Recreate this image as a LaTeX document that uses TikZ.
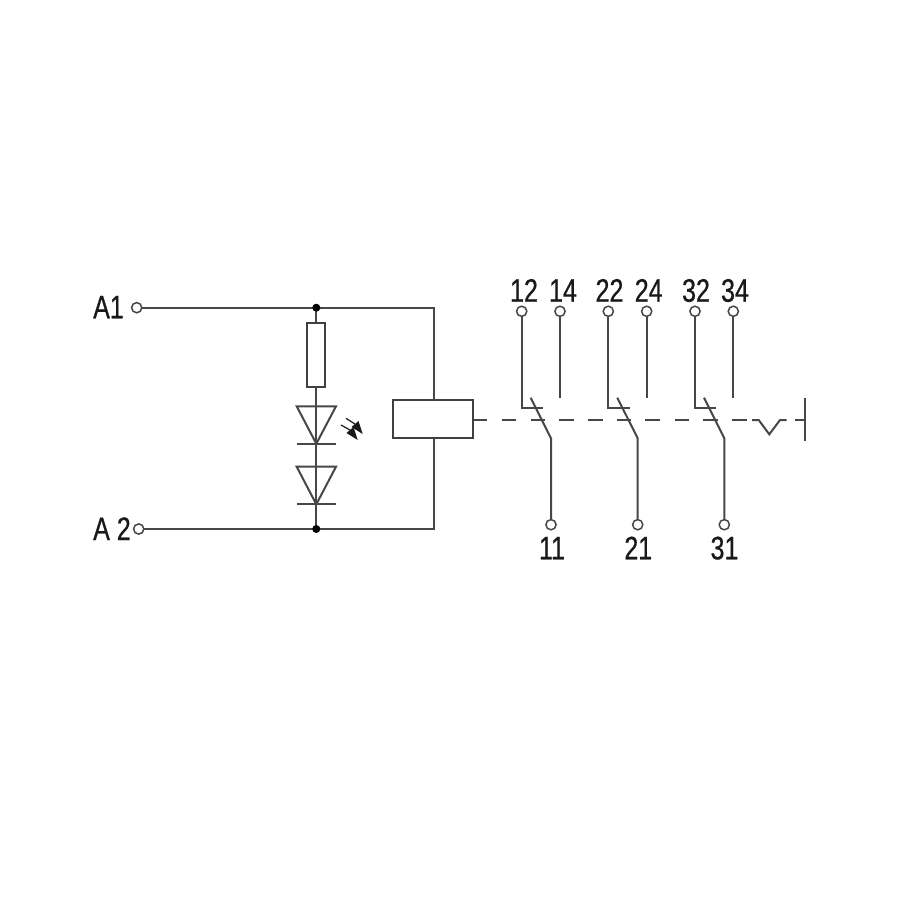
\documentclass[tikz,border=0pt]{standalone}
\usepackage{fontspec}
\setmainfont[FakeStretch=0.77,FakeBold=0.6]{Liberation Sans}
\tikzset{
  wire/.style={draw=black!72,line width=2pt},
  term/.style={circle,draw=black!72,line width=1.5pt,fill=white,inner sep=0pt,minimum size=10.2pt},
  junc/.style={circle,fill=black,inner sep=0pt,minimum size=8pt},
  box/.style={rectangle,draw=black!75,line width=1.9pt,fill=white,inner sep=0pt},
  lab/.style={inner sep=0pt,anchor=base,text=black!90,font=\fontsize{32.5}{33}\selectfont},
  mech/.style={wire},
  ledmark/.style={fill=black!90,draw=none},
  ledtail/.style={draw=black!85,line width=1.3pt}
}
\begin{document}
\begin{tikzpicture}[x=1pt,y=-1pt]
\useasboundingbox[fill=white] (0,0) rectangle (900,900);
% main wires first so that terminals sit on top
\coordinate (tr) at (434.3,307.7);
\coordinate (br) at (434.3,529);
\coordinate (A1p) at (136.7,307.7);
\coordinate (A2p) at (138.7,529);
\coordinate (jtp) at (316.3,307.7);
\coordinate (jbp) at (316.3,529);
\draw[wire] (A1p) -- (jtp) -- (tr) -- (br) -- (jbp) -- (A2p);
\draw[wire] (jtp) -- (jbp);
% labels
\node[lab,anchor=base west] (tA1) at (93,318.3) {A1};
\node[lab,anchor=base west] (tA2) at (93,540) {A 2};
\node[lab] (t12) at (524,301.7) {12};
\node[lab] (t14) at (563,301.7) {14};
\node[lab] (t22) at (609.5,301.7) {22};
\node[lab] (t24) at (648.7,301.7) {24};
\node[lab] (t32) at (696,301.7) {32};
\node[lab] (t34) at (735,301.7) {34};
\node[lab] (t11) at (552,559.3) {11};
\node[lab] (t21) at (638.3,559.3) {21};
\node[lab] (t31) at (724.5,559.3) {31};
% contact coordinates
\coordinate (p12) at (521.7,311.3);
\coordinate (p14) at (560,311.3);
\coordinate (p22) at (608.3,311.3);
\coordinate (p24) at (646.7,311.3);
\coordinate (p32) at (695,311.3);
\coordinate (p34) at (733.3,311.3);
\coordinate (p11) at (551,524.7);
\coordinate (p21) at (637.7,524.7);
\coordinate (p31) at (724.3,524.7);
\coordinate (k1) at (521.7,407.7); \coordinate (k1e) at (542.7,407.7);
\coordinate (k2) at (608.3,407.7); \coordinate (k2e) at (630,407.7);
\coordinate (k3) at (695,407.7); \coordinate (k3e) at (715.7,407.7);
\coordinate (b1a) at (530.7,397.7); \coordinate (b1b) at (551,438.3);
\coordinate (b2a) at (617.3,397.7); \coordinate (b2b) at (637.7,438.3);
\coordinate (b3a) at (704,397.7); \coordinate (b3b) at (724.3,438.3);
\coordinate (e14) at (560,397.7); \coordinate (e24) at (646.7,397.7); \coordinate (e34) at (733.3,397.7);
\draw[wire] (p12) -- (k1) -- (k1e);
\draw[wire] (p22) -- (k2) -- (k2e);
\draw[wire] (p32) -- (k3) -- (k3e);
\draw[wire] (p14) -- (e14);
\draw[wire] (p24) -- (e24);
\draw[wire] (p34) -- (e34);
\draw[wire] (b1a) -- (b1b) -- (p11);
\draw[wire] (b2a) -- (b2b) -- (p21);
\draw[wire] (b3a) -- (b3b) -- (p31);
% terminals
\node[term] (A1) at (A1p) {};
\node[term] (A2) at (A2p) {};
\node[term] (c12) at (p12) {};
\node[term] (c14) at (p14) {};
\node[term] (c22) at (p22) {};
\node[term] (c24) at (p24) {};
\node[term] (c32) at (p32) {};
\node[term] (c34) at (p34) {};
\node[term] (c11) at (p11) {};
\node[term] (c21) at (p21) {};
\node[term] (c31) at (p31) {};
\node[junc] (jt) at (jtp) {};
\node[junc] (jb) at (jbp) {};
% resistor and coil
\node[box,minimum width=17.4pt,minimum height=64.3pt] (res) at (316,354.9) {};
\node[box,minimum width=80pt,minimum height=38pt] (coil) at (432.7,419.4) {};
% diodes
\coordinate (d1a) at (296.7,406.3); \coordinate (d1b) at (336,406.3); \coordinate (d1c) at (316.3,443.7);
\coordinate (d1l) at (296.7,443.7); \coordinate (d1r) at (336,443.7);
\coordinate (d2a) at (296.7,466.7); \coordinate (d2b) at (336,466.7); \coordinate (d2c) at (316.3,504.3);
\coordinate (d2l) at (296.7,504.3); \coordinate (d2r) at (336,504.3);
\draw[wire] (d1a) -- (d1b) -- (d1c) -- cycle;
\draw[wire] (d1l) -- (d1r);
\draw[wire] (d2a) -- (d2b) -- (d2c) -- cycle;
\draw[wire] (d2l) -- (d2r);
% LED rays
\coordinate (r1t) at (346,418.3); \coordinate (r1m) at (355,424);
\coordinate (r2t) at (341,425); \coordinate (r2m) at (350,430);
\draw[ledtail] (r1t) -- (r1m);
\draw[ledtail] (r2t) -- (r2m);
\fill[ledmark] (362.7,434) -- (351.5,427) -- (358.5,421) -- cycle;
\fill[ledmark] (357.7,440) -- (346.5,433) -- (353.5,427) -- cycle;
% mechanical linkage
\coordinate (s1) at (486.7,420);
\draw[mech] (coil.east |- s1) -- (s1);
\foreach \i/\xa/\xb in {1/501.7/515.7,2/530.7/545,3/559.3/573.7,4/588/602.7,5/616.7/631,6/645.3/660,7/674.5/689,8/703/717.7,9/732/746.7}{
  \coordinate (da\i) at (\xa,420);
  \coordinate (db\i) at (\xb,420);
  \draw[mech] (da\i) -- (db\i);
}
\coordinate (v0) at (752,420); \coordinate (v1) at (758.7,420); \coordinate (v2) at (769.3,434.3);
\coordinate (v3) at (780,420); \coordinate (v4) at (786.7,420);
\draw[mech] (v0) -- (v1) -- (v2) -- (v3) -- (v4);
\coordinate (w0) at (795.3,420); \coordinate (w1) at (805,420);
\coordinate (bt) at (805,398.3); \coordinate (bb) at (805,441.3);
\draw[mech] (w0) -- (w1);
\draw[wire] (bt) -- (bb);
\end{tikzpicture}
\end{document}
